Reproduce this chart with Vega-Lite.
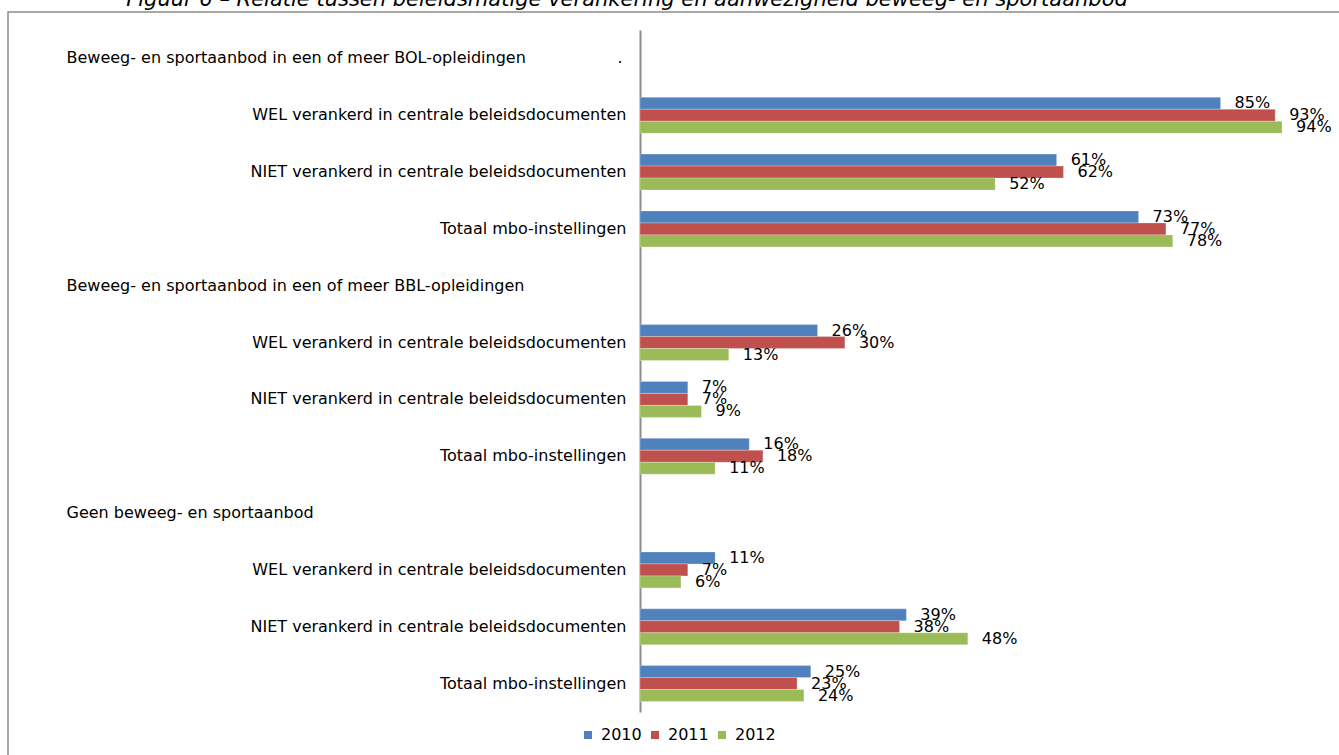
{
  "$schema": "https://vega.github.io/schema/vega-lite/v6.json",
  "width": 1340,
  "height": 750,
  "autosize": {"type": "none"},
  "padding": {"left": 8, "top": 12, "right": 0, "bottom": 0},
  "background": "white",
  "config": {
    "view": {"stroke": "#8c8c8c", "strokeWidth": 1.5},
    "font": "DejaVu Sans"
  },
  "title": {
    "text": "Figuur 6 – Relatie tussen beleidsmatige verankering en aanwezigheid beweeg- en sportaanbod",
    "font": "DejaVu Sans",
    "fontSize": 21,
    "fontStyle": "italic",
    "fontWeight": "normal",
    "color": "#000000",
    "anchor": "middle",
    "frame": "group",
    "dx": -51,
    "offset": -15,
    "baseline": "alphabetic"
  },
  "data": {
    "values": [
      {"rij": "A1|WEL verankerd in centrale beleidsdocumenten", "jaar": "2010", "pct": 0.85},
      {"rij": "A1|WEL verankerd in centrale beleidsdocumenten", "jaar": "2011", "pct": 0.93},
      {"rij": "A1|WEL verankerd in centrale beleidsdocumenten", "jaar": "2012", "pct": 0.94},
      {"rij": "A2|NIET verankerd in centrale beleidsdocumenten", "jaar": "2010", "pct": 0.61},
      {"rij": "A2|NIET verankerd in centrale beleidsdocumenten", "jaar": "2011", "pct": 0.62},
      {"rij": "A2|NIET verankerd in centrale beleidsdocumenten", "jaar": "2012", "pct": 0.52},
      {"rij": "A3|Totaal mbo-instellingen", "jaar": "2010", "pct": 0.73},
      {"rij": "A3|Totaal mbo-instellingen", "jaar": "2011", "pct": 0.77},
      {"rij": "A3|Totaal mbo-instellingen", "jaar": "2012", "pct": 0.78},
      {"rij": "B1|WEL verankerd in centrale beleidsdocumenten", "jaar": "2010", "pct": 0.26},
      {"rij": "B1|WEL verankerd in centrale beleidsdocumenten", "jaar": "2011", "pct": 0.30},
      {"rij": "B1|WEL verankerd in centrale beleidsdocumenten", "jaar": "2012", "pct": 0.13},
      {"rij": "B2|NIET verankerd in centrale beleidsdocumenten", "jaar": "2010", "pct": 0.07},
      {"rij": "B2|NIET verankerd in centrale beleidsdocumenten", "jaar": "2011", "pct": 0.07},
      {"rij": "B2|NIET verankerd in centrale beleidsdocumenten", "jaar": "2012", "pct": 0.09},
      {"rij": "B3|Totaal mbo-instellingen", "jaar": "2010", "pct": 0.16},
      {"rij": "B3|Totaal mbo-instellingen", "jaar": "2011", "pct": 0.18},
      {"rij": "B3|Totaal mbo-instellingen", "jaar": "2012", "pct": 0.11},
      {"rij": "C1|WEL verankerd in centrale beleidsdocumenten", "jaar": "2010", "pct": 0.11},
      {"rij": "C1|WEL verankerd in centrale beleidsdocumenten", "jaar": "2011", "pct": 0.07},
      {"rij": "C1|WEL verankerd in centrale beleidsdocumenten", "jaar": "2012", "pct": 0.06},
      {"rij": "C2|NIET verankerd in centrale beleidsdocumenten", "jaar": "2010", "pct": 0.39},
      {"rij": "C2|NIET verankerd in centrale beleidsdocumenten", "jaar": "2011", "pct": 0.38},
      {"rij": "C2|NIET verankerd in centrale beleidsdocumenten", "jaar": "2012", "pct": 0.48},
      {"rij": "C3|Totaal mbo-instellingen", "jaar": "2010", "pct": 0.25},
      {"rij": "C3|Totaal mbo-instellingen", "jaar": "2011", "pct": 0.23},
      {"rij": "C3|Totaal mbo-instellingen", "jaar": "2012", "pct": 0.24}
    ]
  },
  "encoding": {
    "y": {
      "field": "rij",
      "type": "nominal",
      "sort": null,
      "scale": {
        "domain": [
          "H1|Beweeg- en sportaanbod in een of meer BOL-opleidingen\u00a0\u00a0\u00a0\u00a0\u00a0\u00a0\u00a0\u00a0\u00a0\u00a0\u00a0\u00a0\u00a0\u00a0\u00a0\u00a0\u00a0\u00a0.",
          "A1|WEL verankerd in centrale beleidsdocumenten",
          "A2|NIET verankerd in centrale beleidsdocumenten",
          "A3|Totaal mbo-instellingen",
          "H2|Beweeg- en sportaanbod in een of meer BBL-opleidingen",
          "B1|WEL verankerd in centrale beleidsdocumenten",
          "B2|NIET verankerd in centrale beleidsdocumenten",
          "B3|Totaal mbo-instellingen",
          "H3|Geen beweeg- en sportaanbod",
          "C1|WEL verankerd in centrale beleidsdocumenten",
          "C2|NIET verankerd in centrale beleidsdocumenten",
          "C3|Totaal mbo-instellingen"
        ],
        "range": [18, 700],
        "paddingInner": 0.368,
        "paddingOuter": 0.184
      },
      "axis": {
        "title": null,
        "offset": -632,
        "ticks": false,
        "tickSize": 0,
        "grid": false,
        "domainColor": "#8c8c8c",
        "domainWidth": 2,
        "labelExpr": "split(datum.value, '|')[1]",
        "labelFont": "DejaVu Sans",
        "labelFontSize": 16,
        "labelColor": "#000000",
        "labelLimit": 800,
        "labelBaseline": "middle",
        "labelAlign": {"condition": {"test": "indexof(datum.value, 'H') == 0", "value": "left"}, "value": "right"},
        "labelPadding": {"condition": {"test": "indexof(datum.value, 'H') == 0", "value": 574}, "value": 14}
      }
    },
    "yOffset": {
      "field": "jaar",
      "type": "nominal",
      "scale": {"domain": ["2010", "2011", "2012"], "paddingInner": 0, "paddingOuter": 0}
    },
    "x": {
      "field": "pct",
      "type": "quantitative",
      "scale": {"domain": [0, 1], "range": [632, 1315], "nice": false, "zero": true},
      "axis": null
    }
  },
  "layer": [
    {
      "mark": {"type": "bar", "stroke": "#ffffff", "strokeOpacity": 0.35, "strokeWidth": 0.75},
      "encoding": {
        "color": {
          "field": "jaar",
          "type": "nominal",
          "scale": {"domain": ["2010", "2011", "2012"], "range": ["#4F81BD", "#C0504D", "#9BBB59"]},
          "legend": {
            "title": null,
            "orient": "none",
            "direction": "horizontal",
            "legendX": 572,
            "legendY": 715,
            "symbolType": "square",
            "symbolSize": 64,
            "symbolStrokeWidth": 0,
            "labelFont": "DejaVu Sans",
            "labelFontSize": 16,
            "labelColor": "#000000",
            "labelOffset": 5,
            "columnPadding": 5,
            "padding": 0
          }
        }
      }
    },
    {
      "mark": {"type": "text", "align": "left", "baseline": "middle", "dx": 14, "font": "DejaVu Sans", "fontSize": 16, "color": "#000000"},
      "encoding": {
        "text": {"field": "pct", "type": "quantitative", "format": ".0%"}
      }
    }
  ]
}
